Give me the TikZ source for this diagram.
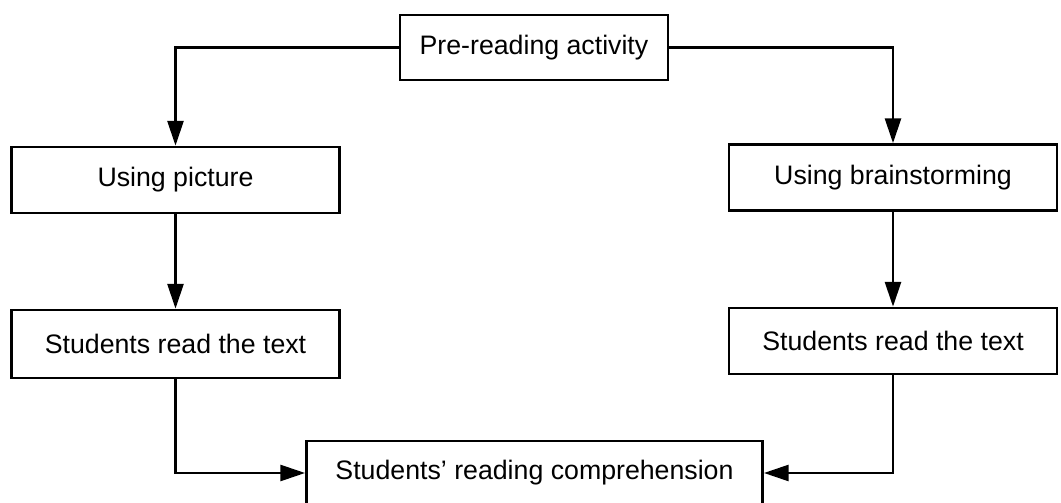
\documentclass[tikz,border=0pt]{standalone}
\usepackage{fontspec}
\setmainfont{Liberation Sans}
\usepackage{tikz}
\usetikzlibrary{arrows.meta}

\tikzset{
  etape/.style={draw, line width=1.9pt, fill=white, inner sep=0pt,
    minimum width=8.2cm, minimum height=1.65cm,
    font=\fontsize{19}{23}\selectfont},
  fleche/.style={line width=1.9pt,
    -{Triangle[length=0.62cm,width=0.4cm]}}
}

\begin{document}
\begin{tikzpicture}[x=0.025cm,y=-0.025cm]
\useasboundingbox (0,0) rectangle (1061,503);
  \node[etape, minimum width=6.7cm, minimum height=1.62cm] (P) at (534,47.5)  {Pre-reading activity};
  \node[etape]         (A) at (175.5,180) {Using picture};
  \node[etape]         (B) at (893,177.5) {Using brainstorming};
  \node[etape, minimum height=1.7cm] (C) at (175.5,344) {Students read the text};
  \node[etape]         (D) at (893,341)   {Students read the text};
  \node[etape, minimum width=11.4cm, minimum height=1.6cm] (E) at (534.5,473) {Students' reading comprehension};

  \draw[fleche] (P.west) -| (A.north);
  \draw[fleche] (P.east) -| (B.north);
  \draw[fleche] (A) -- (C);
  \draw[fleche] (B) -- (D);
  \draw[fleche] (C.south) |- (E.west);
  \draw[fleche] (D.south) |- (E.east);
\end{tikzpicture}
\end{document}
